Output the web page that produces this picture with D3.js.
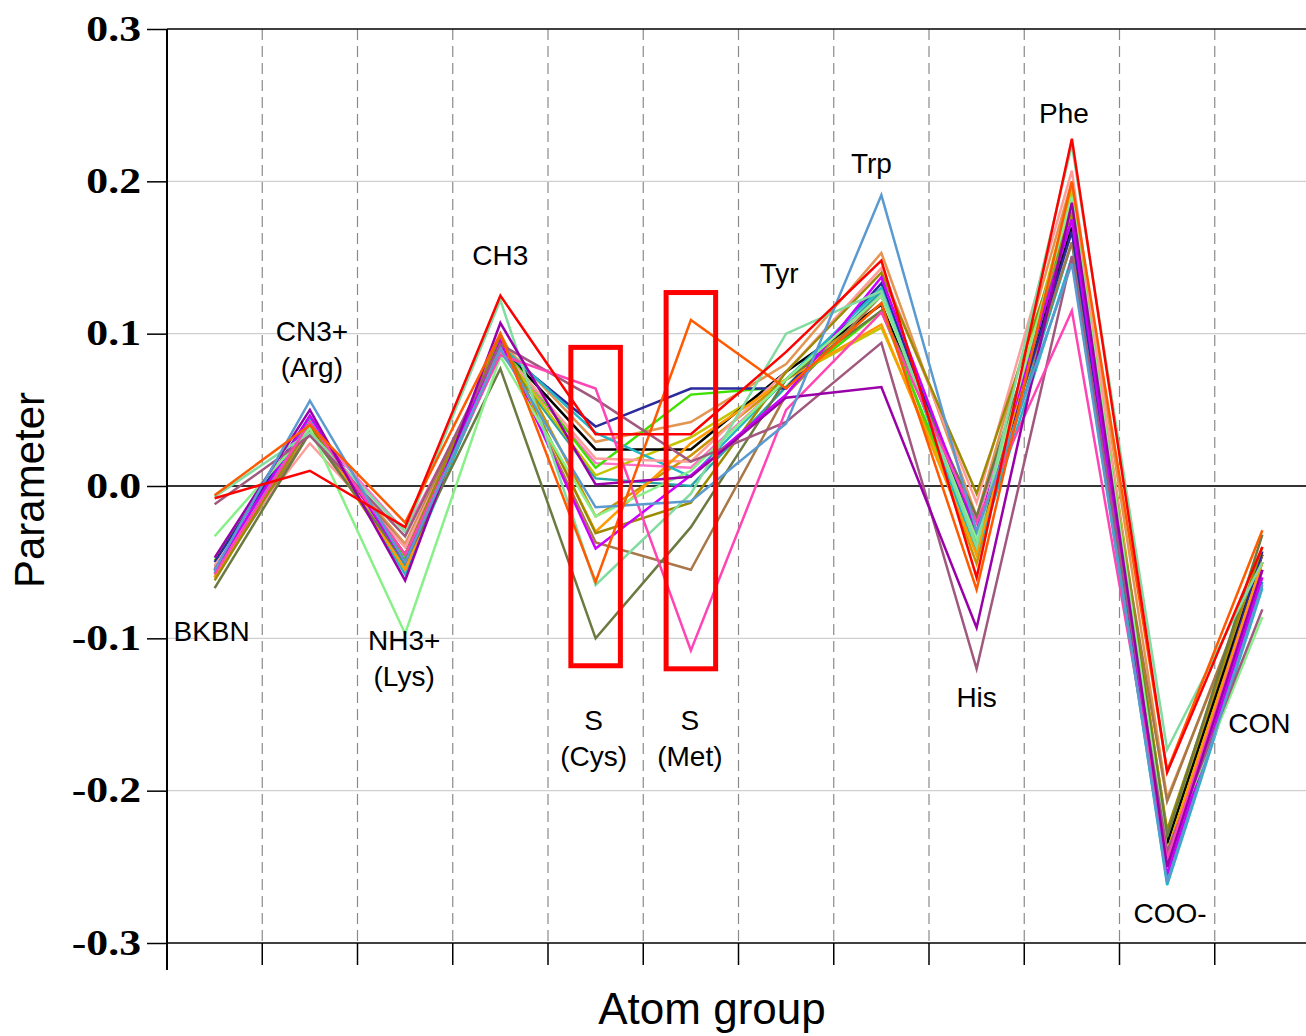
<!DOCTYPE html>
<html>
<head>
<meta charset="utf-8">
<script src="https://cdn.jsdelivr.net/npm/d3@7"></script>
<style>
  body { margin: 0; background: #fff; }
  svg { display: block; }
</style>
</head>
<body>
<script>
// categories along x (atom groups)
var categories = ["BKBN", "CN3+", "NH3+", "CH3", "S(Cys)", "S(Met)", "Tyr", "Trp", "His", "Phe", "COO-", "CON"];

// y ticks
var yTicks = [-0.3, -0.2, -0.1, 0.0, 0.1, 0.2, 0.3];

// one array per series, values in category order
var sRed        = [-0.008, 0.010, -0.027, 0.125, 0.034, 0.034, 0.088, 0.148, -0.060, 0.228, -0.188, -0.040];
var sOrangeRed  = [-0.006, 0.040, -0.024, 0.100, -0.063, 0.109, 0.064, 0.120, -0.068, 0.200, -0.187, -0.029];
var sPaleGreen  = [-0.007, 0.035, -0.030, 0.122, -0.065, -0.005, 0.100, 0.128, -0.040, 0.224, -0.173, -0.050];
var sLightGreen = [-0.033, 0.038, -0.097, 0.085, -0.020, 0.010, 0.070, 0.125, -0.035, 0.190, -0.240, -0.086];
var sSteelBlue  = [-0.055, 0.056, -0.050, 0.090, -0.014, -0.010, 0.041, 0.191, -0.030, 0.146, -0.260, -0.065];
var sPurple     = [-0.047, 0.050, -0.062, 0.107, 0.001, 0.006, 0.058, 0.065, -0.093, 0.186, -0.250, -0.055];
var sViolet     = [-0.055, 0.046, -0.050, 0.095, -0.041, 0.007, 0.060, 0.137, -0.030, 0.175, -0.255, -0.060];
var sHotPink    = [-0.058, 0.042, -0.045, 0.086, 0.064, -0.108, 0.050, 0.114, -0.024, 0.115, -0.245, -0.055];
var sDarkOlive  = [-0.067, 0.035, -0.050, 0.077, -0.100, -0.027, 0.070, 0.115, -0.020, 0.175, -0.230, -0.032];
var sKhaki      = [-0.062, 0.040, -0.045, 0.098, -0.031, -0.011, 0.075, 0.140, -0.005, 0.180, -0.226, -0.040];
var sOrange     = [-0.060, 0.042, -0.055, 0.095, -0.030, 0.028, 0.070, 0.106, -0.045, 0.190, -0.240, -0.050];
var sSalmon     = [-0.052, 0.028, -0.040, 0.090, 0.018, 0.016, 0.075, 0.143, -0.011, 0.207, -0.245, -0.050];
var sCyan       = [-0.057, 0.044, -0.058, 0.092, 0.035, 0.006, 0.070, 0.130, -0.045, 0.150, -0.262, -0.067];
var sNavy       = [-0.050, 0.046, -0.050, 0.090, 0.039, 0.064, 0.064, 0.133, -0.035, 0.167, -0.250, -0.043];
var sGreen      = [-0.049, 0.045, -0.048, 0.093, 0.012, 0.060, 0.065, 0.115, -0.040, 0.180, -0.240, -0.050];
var sBrown      = [-0.060, 0.035, -0.040, 0.095, -0.037, -0.055, 0.060, 0.125, -0.030, 0.160, -0.207, -0.045];
var sBlack      = [-0.055, 0.040, -0.045, 0.092, 0.024, 0.024, 0.075, 0.119, -0.030, 0.170, -0.235, -0.045];
var sSandy      = [-0.053, 0.036, -0.038, 0.095, 0.029, 0.042, 0.080, 0.153, -0.020, 0.200, -0.205, -0.050];
var sMauve      = [-0.012, 0.033, -0.033, 0.093, 0.057, 0.016, 0.042, 0.094, -0.120, 0.151, -0.240, -0.081];
var sOliveYel   = [-0.058, 0.040, -0.050, 0.090, 0.007, 0.032, 0.070, 0.104, -0.039, 0.195, -0.232, -0.050];
var sGold       = [-0.060, 0.038, -0.055, 0.100, -0.020, 0.020, 0.070, 0.120, -0.051, 0.195, -0.228, -0.045];
var sPink       = [-0.057, 0.040, -0.030, 0.088, 0.015, 0.012, 0.070, 0.125, -0.024, 0.180, -0.250, -0.055];
var sTeal       = [-0.056, 0.042, -0.052, 0.088, 0.005, 0.000, 0.065, 0.128, -0.042, 0.160, -0.258, -0.063];

var seriesValues = [sTeal, sPink, sGold, sOliveYel, sSandy, sBlack, sBrown, sGreen, sNavy, sCyan, sSalmon,
                    sOrange, sKhaki, sDarkOlive, sViolet, sLightGreen, sPaleGreen, sMauve, sHotPink, sPurple,
                    sSteelBlue, sOrangeRed, sRed];
var seriesColors = ["#25a5a8", "#ff70c8", "#cc9200", "#c4c400", "#e39552", "#000000", "#a87848", "#3ee000",
                    "#2a2a9c", "#22b6c6", "#ff9c9c", "#ff9a00", "#9c8a00", "#6b7a40", "#cc00ff", "#88f088",
                    "#80dca0", "#a0587e", "#ff45b4", "#9a00aa", "#5a9ad0", "#ff5a00", "#ff0000"];

// category annotation texts (one or two lines)
var groupLabels = [["BKBN"], ["CN3+", "(Arg)"], ["NH3+", "(Lys)"], ["CH3"], ["S", "(Cys)"], ["S", "(Met)"],
                   ["Tyr"], ["Trp"], ["His"], ["Phe"], ["COO-"], ["CON"]];

// highlighted categories and their value ranges
var boxCats = ["S(Cys)", "S(Met)"];
var boxRanges = [[-0.118, 0.091], [-0.120, 0.127]];

function drawChart(){

	var w = 1306;
	var h = 1036;
	var left = 167, right = 1310, top = 29, bottom = 943;

	var svg = d3.select("body")
		.append("svg")
		.attr("width", w)
		.attr("height", h);

	var x = d3.scaleBand().domain(categories).range([left, right]).paddingInner(0).paddingOuter(0);
	var bw = x.bandwidth();
	var cx = function(c){ return x(c) + bw / 2; };
	var y = d3.scaleLinear().domain([-0.3, 0.3]).range([bottom, top]);

	// horizontal grid
	svg.append("g").selectAll("line")
		.data(yTicks.filter(function(d){ return Math.abs(d) > 0.01 && Math.abs(d) < 0.29; }))
		.enter().append("line")
		.attr("x1", left).attr("x2", w)
		.attr("y1", function(d){ return y(d); }).attr("y2", function(d){ return y(d); })
		.attr("stroke", "#cfcfcf").attr("stroke-width", 1.2);

	// dashed separators between groups
	svg.append("g").selectAll("line")
		.data(categories.slice(1))
		.enter().append("line")
		.attr("x1", function(d){ return x(d); }).attr("x2", function(d){ return x(d); })
		.attr("y1", top).attr("y2", bottom)
		.attr("stroke", "#8a8a8a").attr("stroke-width", 1.2)
		.attr("stroke-dasharray", "11,6");

	// zero line
	svg.append("line")
		.attr("x1", left).attr("x2", w)
		.attr("y1", y(0)).attr("y2", y(0))
		.attr("stroke", "#333").attr("stroke-width", 2);

	// top frame
	svg.append("line")
		.attr("x1", left).attr("x2", w)
		.attr("y1", y(0.3)).attr("y2", y(0.3))
		.attr("stroke", "#000").attr("stroke-width", 1.5);

	// lines
	var line = d3.line()
		.x(function(d, i){ return cx(categories[i]); })
		.y(function(d){ return y(d); });

	svg.append("g").selectAll("path")
		.data(seriesValues)
		.enter().append("path")
		.attr("d", line)
		.attr("fill", "none")
		.attr("stroke", function(d, i){ return seriesColors[i]; })
		.attr("stroke-width", 2.5)
		.attr("stroke-linejoin", "miter");

	// y axis
	var sx = 1.25;
	var yAxis = d3.axisLeft(y)
		.tickValues(yTicks)
		.tickSize(20)
		.tickSizeOuter(0)
		.tickPadding(6)
		.tickFormat(function(d){ return d.toFixed(1); });

	var gy = svg.append("g")
		.attr("transform", "translate(" + left + ",0)")
		.call(yAxis);
	gy.select(".domain").remove();
	gy.selectAll("line").attr("stroke", "#000").attr("stroke-width", 1.5);
	gy.selectAll("text")
		.attr("x", -26 / sx)
		.attr("transform", "scale(" + sx + ",1)")
		.attr("font-family", "'Liberation Serif', 'Times New Roman', serif")
		.attr("font-weight", "bold")
		.attr("font-size", "35px")
		.attr("fill", "#000");

	svg.append("line")
		.attr("x1", left).attr("x2", left)
		.attr("y1", top).attr("y2", 970)
		.attr("stroke", "#000").attr("stroke-width", 2);

	// x axis (ticks on group boundaries, no labels)
	var xAxis = d3.axisBottom(x)
		.tickSize(22)
		.tickSizeOuter(0)
		.tickFormat("");

	var gx = svg.append("g")
		.attr("transform", "translate(0," + bottom + ")")
		.call(xAxis);
	gx.selectAll(".tick").attr("transform", function(d){ return "translate(" + x(d) + ",0)"; });
	gx.select(".domain").remove();
	gx.selectAll("line").attr("stroke", "#000").attr("stroke-width", 1.5);

	svg.append("line")
		.attr("x1", left).attr("x2", w)
		.attr("y1", bottom).attr("y2", bottom)
		.attr("stroke", "#000").attr("stroke-width", 1.5);

	// highlight boxes
	svg.append("g").selectAll("rect")
		.data(boxCats)
		.enter().append("rect")
		.attr("x", function(d){ return cx(d) - bw * 0.26; })
		.attr("width", bw * 0.52)
		.attr("y", function(d, i){ return y(boxRanges[i][1]); })
		.attr("height", function(d, i){ return y(boxRanges[i][0]) - y(boxRanges[i][1]); })
		.attr("fill", "none")
		.attr("stroke", "#ff0000")
		.attr("stroke-width", 5);

	// group annotations: offset from category centre, baseline of first line
	var labelDx = [-3, 2, -1, 0, -2, -1, -7, -10, 0, -8, 3, -3];
	var labelBase = [641, 341, 650, 265, 730, 730, 283, 173, 707, 123, 923, 733];
	var lineGap = 36;

	groupLabels.forEach(function(lines, i){
		var t = svg.append("text")
			.attr("text-anchor", "middle")
			.attr("font-family", "'Liberation Sans', Arial, Helvetica, sans-serif")
			.attr("font-size", "28px")
			.attr("fill", "#000");
		lines.forEach(function(s, k){
			t.append("tspan")
				.attr("x", cx(categories[i]) + labelDx[i])
				.attr("y", labelBase[i] + k * lineGap)
				.text(s);
		});
	});

	// axis titles
	svg.append("text")
		.attr("x", 712).attr("y", 1024)
		.attr("text-anchor", "middle")
		.attr("font-family", "'Liberation Sans', Arial, Helvetica, sans-serif")
		.attr("font-size", "44px")
		.attr("fill", "#000")
		.text("Atom group");

	svg.append("text")
		.attr("transform", "translate(44,490) rotate(-90)")
		.attr("text-anchor", "middle")
		.attr("font-family", "'Liberation Sans', Arial, Helvetica, sans-serif")
		.attr("font-size", "42px")
		.attr("fill", "#000")
		.text("Parameter");
}

drawChart();
</script>
</body>
</html>
